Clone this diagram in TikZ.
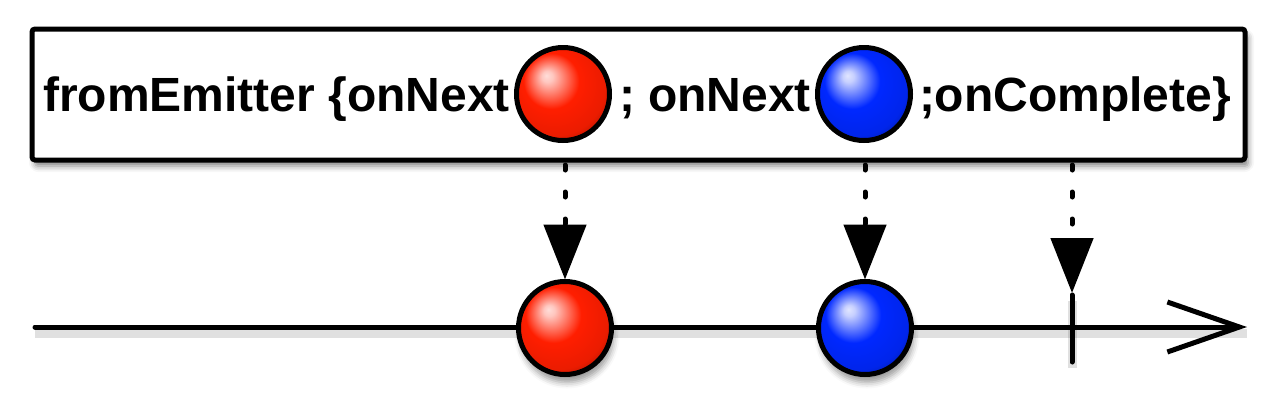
\documentclass[tikz,border=0pt]{standalone}
\usepackage{fontspec}
\setmainfont{Liberation Sans}
\usetikzlibrary{arrows.meta,shadows.blur}
\definecolor{redball}{RGB}{255,30,0}
\definecolor{blueball}{RGB}{0,40,255}
\pgfdeclareradialshading{redsh}{\pgfqpoint{-9bp}{10bp}}{%
  color(0bp)=(white!85!redball); color(3bp)=(white!75!redball);
  color(15bp)=(redball); color(27bp)=(redball!92!black);
  color(36bp)=(redball!55!black); color(50bp)=(redball!50!black)}
\pgfdeclareradialshading{bluesh}{\pgfqpoint{-9bp}{10bp}}{%
  color(0bp)=(white!88!blueball); color(3bp)=(white!78!blueball);
  color(15bp)=(blueball); color(27bp)=(blueball!92!black);
  color(36bp)=(blueball!55!black); color(50bp)=(blueball!50!black)}
\begin{document}
\begin{tikzpicture}[x=1pt,y=-1pt,
  every node/.style={inner sep=0pt,outer sep=0pt},
  lbl/.style={font=\fontsize{48}{50}\selectfont\bfseries},
  boxst/.style={draw=black,fill=white,line width=5pt,rounded corners=3pt,
    blur shadow={shadow xshift=3pt,shadow yshift=-6pt,shadow blur radius=6pt,shadow opacity=50}},
  ballst/.style={circle,draw=black,line width=5pt,minimum size=93pt},
  redb/.style={ballst,shading=redsh},
  blueb/.style={ballst,shading=bluesh},
  ballsh/.style={blur shadow={shadow xshift=2pt,shadow yshift=-8pt,shadow blur radius=6pt,shadow opacity=40}},
  darrow/.style={line width=5pt,line cap=round,dash pattern=on 5pt off 22pt,dash phase=22pt,
    -{Triangle[length=55pt,width=42pt]}},
  tline/.style={line width=5pt,line cap=round},
  tshadow/.style={line width=9pt,black,opacity=0.12},
]
\useasboundingbox (0,0) rectangle (1280,400);
% box
\node[boxst,minimum width=1213pt,minimum height=131pt] (box) at (638.5,94.5) {};
\node[redb] (br) at (563,94) {};
\node[blueb] (bb) at (864,94) {};
\node[lbl,anchor=base east] (t1) at (510,111) {fromEmitter \{onNext};
\node[lbl,anchor=base east] (t2) at (811,111) {; onNext};
\node[lbl,anchor=base west] (t3) at (919,111) {;onComplete\}};
% timeline
\coordinate (ts) at (35,327);
\coordinate (te) at (1247,327);
\coordinate (tickT) at (1072,295);
\coordinate (tickB) at (1072,362);
\draw[tshadow] ([yshift=-6pt]ts) -- ([yshift=-6pt]te);
\draw[tshadow] ([yshift=-6pt]tickT) -- ([yshift=-6pt]tickB);
\draw[tline,-{Straight Barb[length=72pt,width=50pt]}] (ts) -- (te);
\draw[tline] (tickT) -- (tickB);
\node[redb,ballsh] (rr) at (565,328) {};
\node[blueb,ballsh] (rb) at (865,328) {};
% emission arrows
\draw[darrow,shorten >=2pt] (rr.north |- box.south) -- (rr.north);
\draw[darrow,shorten >=2pt] (rb.north |- box.south) -- (rb.north);
\draw[darrow,shorten >=2pt] (tickT |- box.south) -- (tickT);
\end{tikzpicture}
\end{document}
